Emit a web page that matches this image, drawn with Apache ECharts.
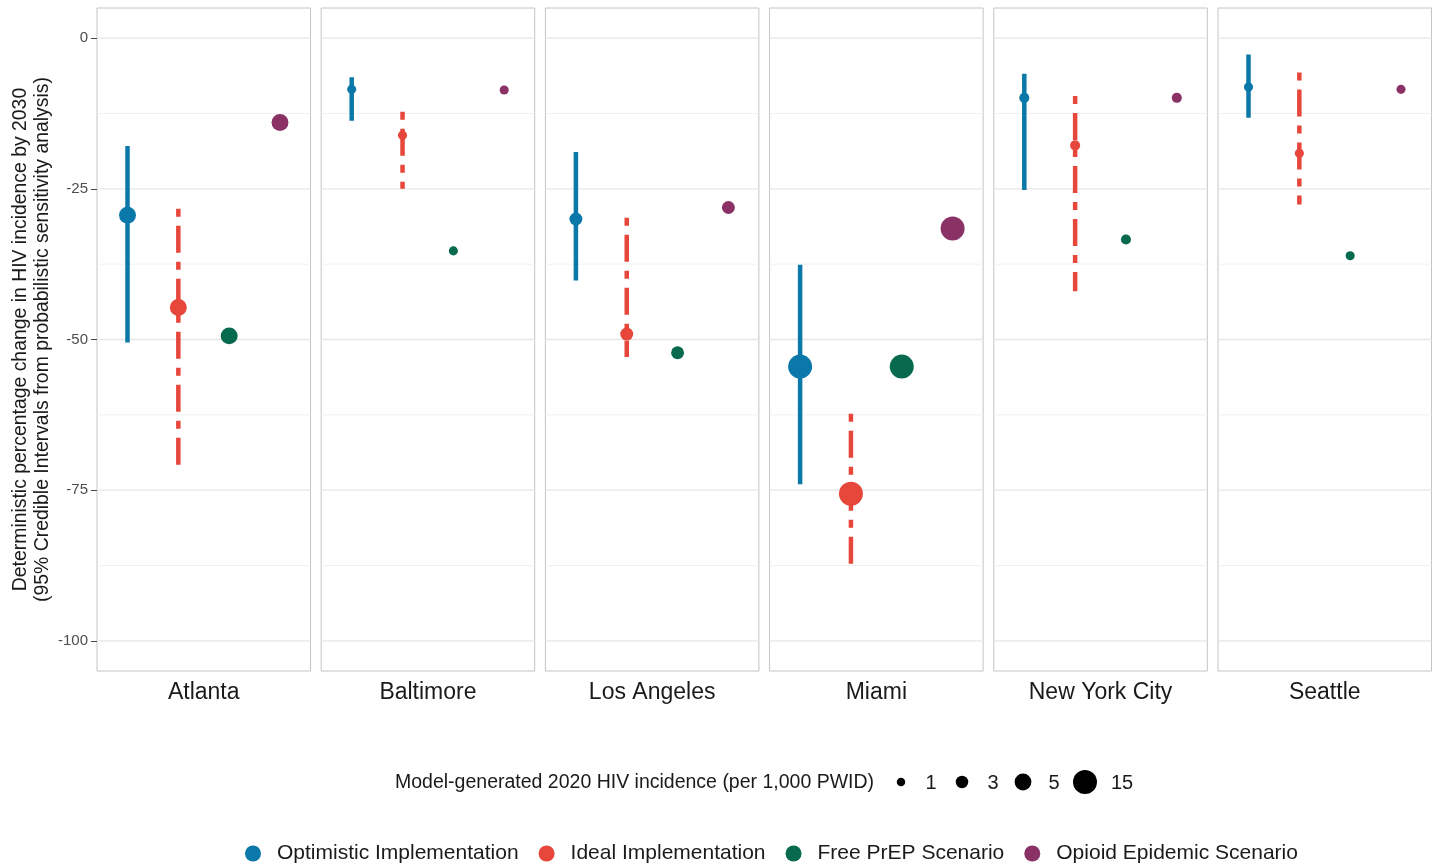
<!DOCTYPE html>
<html>
<head>
<meta charset="utf-8">
<script src="https://cdn.jsdelivr.net/npm/echarts@6/dist/echarts.min.js"></script>
<style>html,body{margin:0;padding:0;background:#fff}#c{width:1440px;height:867px}</style>
</head>
<body>
<div id="c"></div>
<script>
// ---- data ----
const cities = ['Atlanta', 'Baltimore', 'Los Angeles', 'Miami', 'New York City', 'Seattle'];
const scenarios = ['Optimistic Implementation', 'Ideal Implementation', 'Free PrEP Scenario', 'Opioid Epidemic Scenario'];
const optimisticPt = [-29.4, -8.5, -30.0, -54.5, -9.9, -8.1];
const optimisticLo = [-50.5, -13.7, -40.2, -74.0, -25.2, -13.2];
const optimisticHi = [-17.9, -6.5, -18.9, -37.6, -5.9, -2.7];
const idealPt = [-44.7, -16.1, -49.1, -75.6, -17.8, -19.1];
const idealLo = [-70.8, -25.0, -52.9, -88.7, -42.0, -27.6];
const idealHi = [-28.3, -12.2, -29.8, -62.3, -9.6, -5.7];
const freePrepPt = [-49.4, -35.3, -52.2, -54.5, -33.4, -36.1];
const opioidPt = [-14.0, -8.6, -28.1, -31.6, -9.9, -8.5];
const incidence = [5.2, 1.3, 3.2, 15, 1.8, 1.3];
const yTicks = [0, -25, -50, -75, -100];
const yMinor = [-12.5, -37.5, -62.5, -87.5];
const sizeBreaks = [1, 3, 5, 15];
const sizeBreakLabels = ['1', '3', '5', '15'];

// ---- style ----
const colors = ['#0a78a8', '#e7463a', '#07694d', '#8a3266'];
const sizeDiam = [8.5, 12.5, 16.8, 24];
function diam(v) {
  if (v <= sizeBreaks[0]) return sizeDiam[0];
  for (let i = 1; i < sizeBreaks.length; i++) {
    if (v <= sizeBreaks[i]) {
      const t = (v - sizeBreaks[i - 1]) / (sizeBreaks[i] - sizeBreaks[i - 1]);
      return sizeDiam[i - 1] + t * (sizeDiam[i] - sizeDiam[i - 1]);
    }
  }
  return sizeDiam[sizeDiam.length - 1];
}
const FONT = 'Liberation Sans, Arial, sans-serif';
const X_MIN = 0.4, X_MAX = 4.6;
const panelLeft0 = 97, panelStep = 224.2, panelW = 213.5, panelTop = 8, panelH = 663;

function hLines(vals) {
  const out = [];
  vals.forEach((v, k) => {
    if (k > 0) out.push(null);
    out.push([X_MIN, v], [X_MAX, v]);
  });
  return out;
}

const grids = [], xAxes = [], yAxes = [], series = [];
const points = [optimisticPt, idealPt, freePrepPt, opioidPt];
const bars = [[optimisticHi, optimisticLo], [idealHi, idealLo]];

cities.forEach((city, i) => {
  grids.push({
    left: panelLeft0 + i * panelStep, top: panelTop, width: panelW, height: panelH,
    show: true, borderColor: '#c4c4c4', borderWidth: 1, backgroundColor: 'transparent'
  });
  xAxes.push({
    gridIndex: i, type: 'value', min: X_MIN, max: X_MAX,
    axisLine: {show: false}, axisTick: {show: false}, axisLabel: {show: false}, splitLine: {show: false},
    name: city, nameLocation: 'middle', nameGap: 10,
    nameTextStyle: {fontSize: 23, color: '#1a1a1a', fontFamily: FONT, verticalAlign: 'top'}
  });
  yAxes.push({
    gridIndex: i, type: 'value', min: -105, max: 5,
    axisLine: {show: false},
    axisTick: {show: i === 0, length: 6, lineStyle: {color: '#444'}, customValues: yTicks},
    axisLabel: {show: i === 0, margin: 9, fontSize: 15, color: '#4d4d4d', fontFamily: FONT, customValues: yTicks},
    splitLine: {show: false},
    name: i === 0 ? 'Deterministic percentage change in HIV incidence by 2030\n(95% Credible Intervals from probabilistic sensitivity analysis)' : '',
    nameLocation: 'middle', nameGap: 44, nameRotate: 90,
    nameTextStyle: {fontSize: 19.4, lineHeight: 21.5, color: '#1a1a1a', fontFamily: FONT, align: 'center'}
  });
  // grid lines (major + minor)
  series.push({
    type: 'line', xAxisIndex: i, yAxisIndex: i, data: hLines(yMinor), silent: true, z: 0,
    showSymbol: false, symbol: 'none', connectNulls: false, animation: false,
    lineStyle: {color: '#f1f1f1', width: 1}
  });
  series.push({
    type: 'line', xAxisIndex: i, yAxisIndex: i, data: hLines(yTicks), silent: true, z: 0,
    showSymbol: false, symbol: 'none', connectNulls: false, animation: false,
    lineStyle: {color: '#e6e6e6', width: 1.3}
  });
  // error bars
  bars.forEach((b, s) => {
    series.push({
      type: 'line', name: scenarios[s], xAxisIndex: i, yAxisIndex: i, z: 2,
      showSymbol: false, symbol: 'none', silent: true, animation: false,
      data: [[s + 1, b[0][i]], [s + 1, b[1][i]]],
      lineStyle: {color: colors[s], width: 4.5, cap: 'butt', type: s === 1 ? [8, 9, 27, 9] : 'solid'}
    });
  });
  // points
  points.forEach((p, s) => {
    series.push({
      type: 'scatter', name: scenarios[s], xAxisIndex: i, yAxisIndex: i, z: 3, animation: false,
      data: [[s + 1, p[i]]], symbol: 'circle', symbolSize: diam(incidence[i]),
      itemStyle: {color: colors[s], opacity: 1}
    });
  });
});

// size legend (graphic)
const sizeLegendX = [901, 962, 1023, 1085];
const sizeLabelX = [931, 993, 1054, 1122];
const graphics = [{
  type: 'text', left: 395, top: 773,
  style: {text: 'Model-generated 2020 HIV incidence (per 1,000 PWID)', fill: '#1a1a1a', font: '19.5px ' + FONT}
}];
sizeBreaks.forEach((v, k) => {
  graphics.push({type: 'circle', shape: {cx: sizeLegendX[k], cy: 782, r: diam(v) / 2}, style: {fill: '#000'}});
  graphics.push({type: 'text', x: sizeLabelX[k], y: 783,
    style: {text: sizeBreakLabels[k], font: '20px ' + FONT, fill: '#1a1a1a', align: 'center', verticalAlign: 'middle'}});
});

const option = {
  backgroundColor: '#fff',
  animation: false,
  grid: grids, xAxis: xAxes, yAxis: yAxes, series: series,
  legend: {
    data: scenarios.map((n, s) => ({name: n, icon: 'circle', itemStyle: {color: colors[s]}})),
    left: 245, top: 843, padding: 0, itemWidth: 16, itemHeight: 16, itemGap: 20,
    selectedMode: false,
    textStyle: {fontSize: 21, color: '#1a1a1a', fontFamily: FONT, padding: [0, 0, 0, 11]}
  },
  graphic: graphics
};
const chart = echarts.init(document.getElementById('c'), null, {renderer: 'canvas'});
chart.setOption(option);
</script>
</body>
</html>
